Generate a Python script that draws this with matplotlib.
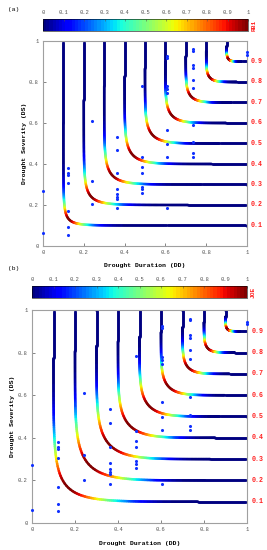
import numpy as np
import matplotlib.pyplot as plt
from matplotlib.collections import LineCollection
from matplotlib.colors import Normalize
from matplotlib.cm import ScalarMappable

plt.rcParams['font.family'] = ['Liberation Mono', 'DejaVu Sans Mono']

# probability levels of the joint contours
levels = [0.1, 0.2, 0.3, 0.4, 0.5, 0.6, 0.7, 0.8, 0.9]
theta_rb1 = 6.0
theta_joe = 7.0

# observed events (DD, DS), same in both panels
dd = [0.0, 0.0,
      0.121, 0.121, 0.121, 0.121, 0.121, 0.121, 0.121,
      0.24, 0.24, 0.24,
      0.361, 0.361, 0.361, 0.361, 0.361, 0.361, 0.361, 0.361,
      0.485, 0.485, 0.485, 0.485, 0.485, 0.485, 0.485,
      0.606, 0.606, 0.606, 0.606, 0.606, 0.606, 0.606, 0.606, 0.606,
      0.734, 0.734, 0.734, 0.734, 0.734, 0.734, 0.734, 0.734, 0.734, 0.734,
      1.0, 1.0]
ds = [0.27, 0.062,
      0.379, 0.358, 0.346, 0.306, 0.171, 0.091, 0.054,
      0.611, 0.319, 0.203,
      0.533, 0.468, 0.355, 0.28, 0.252, 0.241, 0.229, 0.184,
      0.782, 0.433, 0.387, 0.358, 0.29, 0.278, 0.257,
      0.927, 0.915, 0.78, 0.764, 0.745, 0.566, 0.498, 0.436, 0.184,
      0.96, 0.951, 0.883, 0.867, 0.81, 0.769, 0.59, 0.509, 0.455, 0.436,
      0.945, 0.932]

cmap = plt.get_cmap('jet', 64)
norm = Normalize(0, 1)
f = np.unique(np.concatenate([np.geomspace(1e-14, 0.5, 300),
                              1 - np.geomspace(1e-14, 0.5, 300)]))


def gumbel(t, th):
    A = (-np.log(t)) ** th
    w = A * f
    return np.exp(-(A - w) ** (1 / th)), np.exp(-w ** (1 / th))


def joe(t, th):
    K = (1 - t) ** th
    b = K * f
    a = (K - b) / (1 - b)
    return 1 - a ** (1 / th), 1 - b ** (1 / th)


def shade(u, v, t, sig):
    d1 = np.clip(u - t, 1e-12, None)
    d2 = np.clip(v - t, 1e-12, None)
    r = np.log(d1 / d2)
    return np.exp(-r ** 2 / (2 * sig ** 2))


def panel(ax, cax, curve, th, sig, name, tag, tag_y):
    for t in levels:
        u, v = curve(t, th)
        u = np.concatenate([[t], u, [1.0]])
        v = np.concatenate([[1.0], v, [t]])
        pts = np.column_stack([u, v])
        segs = np.stack([pts[:-1], pts[1:]], axis=1)
        c = shade((u[:-1] + u[1:]) / 2, (v[:-1] + v[1:]) / 2, t, sig)
        lc = LineCollection(segs, cmap=cmap, norm=norm, linewidths=1.8,
                            capstyle='round', joinstyle='round')
        lc.set_array(c)
        ax.add_collection(lc)
        ax.text(1.02, t, '%.1f' % t, transform=ax.transAxes, color='#ff2020',
                fontsize=4.8, fontweight='bold', va='center', ha='left')
    ax.scatter(dd, ds, s=5, color='#1030ff', zorder=5, clip_on=False, lw=0)
    ax.set_xlim(0, 1)
    ax.set_ylim(0, 1)
    ticks = [0, 0.2, 0.4, 0.6, 0.8, 1]
    labs = ['0', '0.2', '0.4', '0.6', '0.8', '1']
    ax.set_xticks(ticks, labs)
    ax.set_yticks(ticks, labs)
    ax.tick_params(direction='in', length=2, width=0.5, labelsize=4,
                   colors='#555555', pad=3)
    for s in ax.spines.values():
        s.set_color('#a0a0a0')
        s.set_linewidth(0.8)
    ax.set_xlabel('Drought Duration (DD)', fontsize=4.6, fontweight='bold')
    ax.set_ylabel('Drought Severity (DS)', fontsize=4.6, fontweight='bold')
    ax.xaxis.set_label_coords(0.5, -0.085)
    ax.yaxis.set_label_coords(-0.08, 0.5)

    cb = fig.colorbar(ScalarMappable(norm, cmap), cax=cax,
                      orientation='horizontal',
                      ticks=np.arange(0, 1.01, 0.1))
    cax.xaxis.set_ticks_position('top')
    cax.set_xticklabels(['0'] + ['%.1f' % x for x in np.arange(0.1, 0.95, 0.1)] + ['1'])
    cax.tick_params(labelsize=4, length=1.5, width=0.4, colors='#555555', pad=3,
                    direction='in')
    cb.outline.set_linewidth(0.4)
    pos = cax.get_position()
    fig.text(pos.x1 + 0.012, (pos.y0 + pos.y1) / 2, name, rotation=90,
             color='#ff2020', fontsize=4.5, fontweight='bold',
             va='center', ha='left')
    fig.text(0.03, tag_y, tag, fontsize=4.5, va='center')


fig = plt.figure(figsize=(2.67, 5.5), dpi=100)
ax1 = fig.add_axes([43 / 267, 1 - 246 / 550, 204 / 267, 205 / 550])
cax1 = fig.add_axes([43 / 267, 1 - 31 / 550, 205 / 267, 12 / 550])
ax2 = fig.add_axes([32 / 267, 1 - 523 / 550, 215 / 267, 213 / 550])
cax2 = fig.add_axes([32 / 267, 1 - 298 / 550, 215 / 267, 12 / 550])

panel(ax1, cax1, gumbel, theta_rb1, 2.6, 'RB1', '(a)', 1 - 10 / 550)
panel(ax2, cax2, joe, theta_joe, 3.0, 'JOE', '(b)', 1 - 269 / 550)

fig.savefig('out.png', dpi=100)
